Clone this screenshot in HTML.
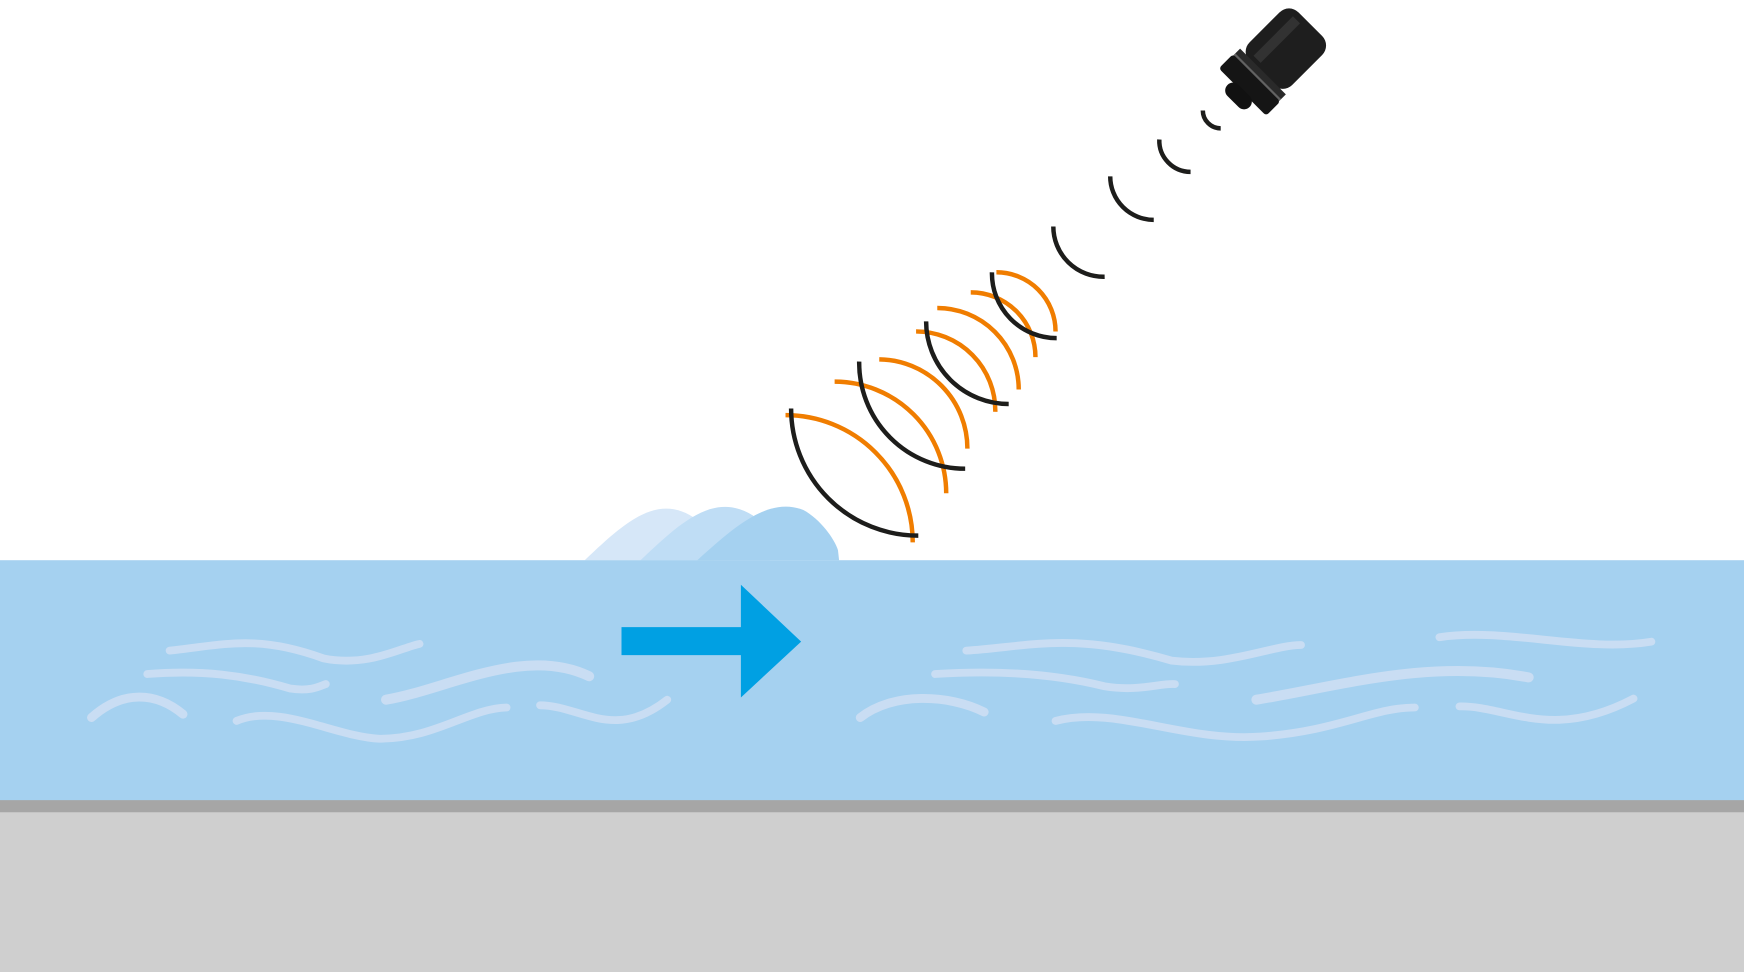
<!DOCTYPE html>
<html><head><meta charset="utf-8"><style>html,body{margin:0;padding:0;background:#fff;overflow:hidden}svg{display:block}</style></head>
<body>
<svg width="1744" height="972" viewBox="0 0 1563 871" preserveAspectRatio="none" xmlns="http://www.w3.org/2000/svg">
<rect width="1563" height="871" fill="#fff"/>
<!-- wave bumps -->
<path d="M524,502 C560,468 590,440 625,466 L640,502 Z" fill="#d6e7f8"/>
<path d="M574,502 C610,468 640,440 675,462 L690,502 Z" fill="#bfddf5"/>
<path d="M625,502 C660,470 690,445 720,457 C735,465 748,483 751,493 L752,502 Z" fill="#a5d1f0"/>
<rect x="0" y="502" width="1563" height="216" fill="#a5d1f0"/>
<rect x="0" y="717" width="1563" height="11" fill="#a6a6a6"/>
<rect x="0" y="728" width="1563" height="143" fill="#cfcfcf"/>
<!-- streaks -->
<g fill="none" stroke="#c9ddf3" stroke-width="7" stroke-linecap="round">
<path d="M152,583 C200,578 230,568 290,590 C330,598 360,580 376,577"/>
<path d="M132,604 C180,600 220,605 260,617 C280,620 288,614 292,613"/>
<path d="M346,627 C400,618 470,578 528,606" stroke-width="9"/>
<path d="M82,643 C110,618 140,620 164,640" stroke-width="8"/>
<path d="M212,646 C250,630 300,660 340,662 C390,662 420,635 454,634"/>
<path d="M484,632 C520,632 550,665 598,627"/>
<path d="M866,583 C920,580 960,565 1050,592 C1100,598 1140,578 1166,578"/>
<path d="M838,604 C900,600 950,605 990,615 C1020,620 1040,612 1053,613"/>
<path d="M1126,627 C1200,615 1280,590 1370,607" stroke-width="9"/>
<path d="M1290,571 C1350,562 1420,585 1480,575"/>
<path d="M771,643 C800,620 850,622 882,638" stroke-width="8"/>
<path d="M946,646 C1000,632 1060,665 1130,660 C1200,655 1230,634 1268,634"/>
<path d="M1308,633 C1350,632 1390,665 1464,626"/>
</g>
<!-- arrow -->
<path d="M557,562 H664 V524 L718,575 L664,625 V587 H557 Z" fill="#00a0e3"/>
<!-- orange arcs -->
<g fill="none" stroke="#f07d00" stroke-width="4">
<path d="M893,244 A53,53 0 0 1 946,297"/>
<path d="M870,262 A58,58 0 0 1 928,320"/>
<path d="M840,276 A73,73 0 0 1 913,349"/>
<path d="M821,297 A71,71 0 0 1 892,369"/>
<path d="M788,322 A80,80 0 0 1 867,402"/>
<path d="M748,342 A100,100 0 0 1 848,442"/>
<path d="M704,372 A114,114 0 0 1 818,486"/>
</g>
<!-- black arcs -->
<g fill="none" stroke="#1d1d1b" stroke-width="4">
<path d="M1078,99 A16,16 0 0 0 1094,115"/>
<path d="M1039,125 A28,28 0 0 0 1067,154"/>
<path d="M995,158 A39,39 0 0 0 1034,197"/>
<path d="M944,203 A45,45 0 0 0 990,248"/>
<path d="M889,244 A58,58 0 0 0 947,303"/>
<path d="M830,288 A74,74 0 0 0 904,362"/>
<path d="M770,324 A95,95 0 0 0 865,420"/>
<path d="M709,366 A114,114 0 0 0 823,480"/>
</g>
<!-- sensor -->
<g transform="translate(1122,74) rotate(-45)">
<rect x="12" y="-27" width="62" height="54" rx="12" fill="#1e1e1e"/>
<rect x="18" y="-16" width="50" height="9" fill="#3a3a3a" opacity="0.7"/>
<rect x="4" y="-29" width="10" height="58" fill="#2a2a2a"/>
<rect x="5" y="-29" width="3" height="58" fill="#888" opacity="0.6"/>
<rect x="-12" y="-30" width="18" height="60" rx="3" fill="#151515"/>
<rect x="-24" y="-14" width="14" height="28" rx="7" fill="#111"/>
</g>
</svg>
</body></html>
